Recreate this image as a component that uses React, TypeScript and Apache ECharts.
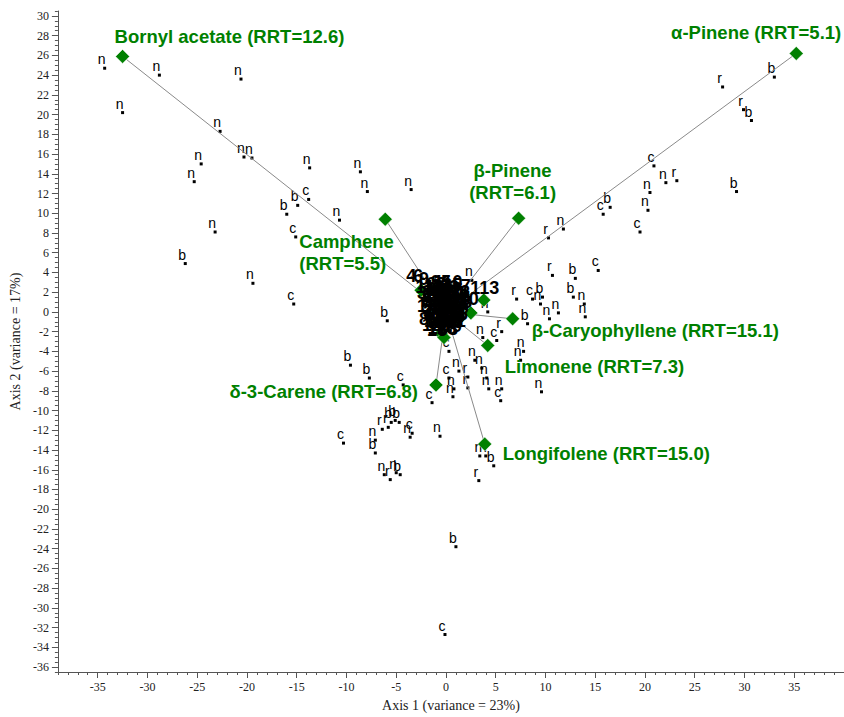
import React, { useEffect, useRef } from "react";
import * as echarts from "echarts";

// ---------- axes ----------
const xTicks = [-35, -30, -25, -20, -15, -10, -5, 0, 5, 10, 15, 20, 25, 30, 35];
const yTicks = [-36, -34, -32, -30, -28, -26, -24, -22, -20, -18, -16, -14, -12, -10, -8, -6, -4, -2, 0, 2, 4, 6, 8, 10, 12, 14, 16, 18, 20, 22, 24, 26, 28, 30];
const xName = "Axis 1 (variance = 23%)";
const yName = "Axis 2 (variance = 17%)";

// ---------- sample scores (letter = group) ----------
const nPoints: [number, number][] = [
  [-34.3, 24.7], [-28.8, 24.0], [-20.6, 23.6], [-32.5, 20.2], [-22.7, 18.3], [-20.3, 15.7], [-19.5, 15.6],
  [-24.6, 15.0], [-13.7, 14.6], [-25.3, 13.2], [-8.6, 14.2], [-7.9, 12.2], [-3.5, 12.4], [-10.7, 9.3],
  [-23.2, 8.1], [-19.4, 2.9],
  [22.1, 13.1], [20.5, 12.1], [20.3, 10.3], [11.8, 8.4], [13.9, 0.8], [14.0, -0.5], [9.5, 0.8], [11.3, -0.1],
  [10.4, -0.7], [2.6, 3.2], [4.2, 0.0],
  [3.7, -2.6], [7.8, -4.0], [7.5, -4.9], [9.6, -8.1], [2.9, -4.9], [3.6, -5.7], [4.1, -6.7], [4.3, -7.8],
  [5.6, -7.8], [1.3, -6.0], [0.8, -7.8], [0.7, -8.6],
  [-3.6, -12.7], [-0.6, -12.6], [-7.1, -13.0], [-6.2, -16.5], [-5.0, -16.3], [4.0, -14.6],
];
const bPoints: [number, number][] = [
  [-14.9, 10.8], [-16.0, 9.9], [-26.2, 4.9], [-5.9, -0.9],
  [33.0, 23.8], [30.7, 19.4], [29.2, 12.2], [16.5, 10.6], [13.0, 3.4], [12.8, 1.5], [9.7, 1.5], [8.2, -1.2],
  [-9.6, -5.4], [-7.7, -6.7], [-7.1, -14.3], [-5.5, -11.2], [-5.1, -11.0], [-4.7, -11.2], [-4.6, -16.5],
  [1.0, -23.8], [4.8, -15.6],
];
const cPoints: [number, number][] = [
  [-13.8, 11.4], [-15.1, 7.6], [-15.3, 0.8],
  [20.9, 14.8], [15.8, 9.9], [19.5, 8.1], [15.3, 4.2], [8.7, 1.3],
  [5.1, -2.9], [5.5, -9.0], [0.3, -6.7], [0.3, -4.0],
  [-4.3, -7.4], [-1.4, -9.2], [-10.3, -13.3], [-3.4, -12.3],
  [-0.1, -32.7],
];
const rPoints: [number, number][] = [
  [27.8, 22.8], [29.9, 20.5], [23.2, 13.3], [10.3, 7.5], [10.7, 3.7], [7.1, 1.3],
  [5.6, -2.0], [2.2, -6.6], [2.2, -7.7],
  [-6.4, -11.9], [-5.8, -11.7], [-5.6, -17.0],
  [3.4, -14.6], [3.3, -17.1],
];

// ---------- named loadings ----------
const loadingNames = [
  "Bornyl acetate (RRT=12.6)",
  "α-Pinene (RRT=5.1)",
  "β-Pinene\n(RRT=6.1)",
  "Camphene\n(RRT=5.5)",
  "β-Caryophyllene (RRT=15.1)",
  "Limonene (RRT=7.3)",
  "Longifolene (RRT=15.0)",
  "δ-3-Carene (RRT=6.8)",
];
const loadingX = [-32.5, 35.2, 7.3, -6.1, 6.7, 4.2, 3.9, -1.0];
const loadingY = [25.9, 26.2, 9.5, 9.4, -0.7, -3.4, -13.4, -7.4];

// ---------- unnamed loadings near the origin ----------
const minorLoadingX = [3.8, 2.5, 1.2, -0.5, -0.2, -2.5];
const minorLoadingY = [1.2, -0.1, -0.8, -2.2, -2.6, 2.2];

// ---------- peak number labels crowded round the origin ----------
const peakLabels: [string, number, number][] = [
  ["4", -3.5, 3.6], ["6", -2.8, 3.6], ["9", -2.2, 3.3], ["95", -0.5, 3.0], ["113", 3.9, 2.4], ["20", 2.3, 1.3],
  ["1", -2.4, 0.6], ["12", -1.4, -1.3], ["7", 2.0, 2.6], ["15", -1.0, 2.2], ["22", 0.3, 2.5], ["31", -0.2, 1.6],
  ["44", 0.9, 1.9], ["52", -1.4, 1.2], ["67", 0.5, 0.9], ["70", 1.3, 0.4], ["78", -0.6, 0.5], ["81", 0.0, -0.1],
  ["88", -1.1, -0.3], ["90", 0.8, -0.6], ["101", -0.3, -0.8], ["104", 1.0, 1.4], ["107", -0.8, 1.8], ["110", 0.2, 3.0],
  ["116", -1.6, 2.5], ["118", -0.4, -1.6], ["2", 1.5, -0.9], ["3", -1.8, 0.0], ["10", 0.6, -1.4], ["14", -1.2, -0.9],
  ["16", -0.9, -1.8], ["18", 1.6, 1.0], ["21", -0.5, 2.6], ["25", 0.7, 2.2], ["27", -1.3, 1.6], ["29", 0.1, 0.3],
  ["33", -0.7, -0.2], ["36", 1.2, -0.2], ["39", -1.9, 1.9], ["41", 0.4, 1.6], ["47", -0.2, -1.3], ["49", 0.9, 0.2],
  ["55", -1.5, 0.5], ["58", -0.1, 2.1], ["60", 0.5, -0.8], ["63", -1.0, 2.8], ["72", 1.4, 2.0], ["75", -0.6, 1.1],
  ["84", 0.3, -0.3], ["86", -1.7, -0.7], ["93", 1.1, 0.8], ["97", -0.3, 0.6], ["99", 0.6, 0.5], ["13", -1.1, 0.2],
  ["8", -0.2, 0.9], ["11", 0.4, 0.1], ["17", -1.0, 0.8], ["19", 0.9, -0.2], ["23", -0.4, 2.3], ["24", 0.3, 1.2],
  ["26", -1.2, 0.4], ["28", 0.1, -0.9], ["30", -0.8, -1.1], ["32", 1.0, 0.9], ["34", -0.3, 1.3], ["35", 0.6, 2.7],
  ["37", -1.4, 2.0], ["38", 0.2, -1.7], ["40", -0.9, 1.4], ["42", 1.3, 1.6], ["43", -0.5, -0.4], ["45", 0.7, -1.0],
];

// label placement (styling only)
const loadingLabelPlacement: Record<string, { offset: [number, number]; align: string }> = {
  "Bornyl acetate (RRT=12.6)": { offset: [-8, -20], align: "left" },
  "α-Pinene (RRT=5.1)": { offset: [45, -21], align: "right" },
  "β-Pinene\n(RRT=6.1)": { offset: [-6, -37], align: "center" },
  "Camphene\n(RRT=5.5)": { offset: [-86, 33], align: "left" },
  "β-Caryophyllene (RRT=15.1)": { offset: [19, 12], align: "left" },
  "Limonene (RRT=7.3)": { offset: [17, 21], align: "left" },
  "Longifolene (RRT=15.0)": { offset: [18, 9], align: "left" },
  "δ-3-Carene (RRT=6.8)": { offset: [-18, 7], align: "right" },
};

const GREEN = "#008000";
const AXIS = "#555";
const SERIF = "'Liberation Serif', 'Times New Roman', serif";
const SANS = "'Liberation Sans', Arial, sans-serif";

export default function App() {
  const ref = useRef<HTMLDivElement>(null);

  useEffect(() => {
    if (!ref.current) return;
    const chart = echarts.init(ref.current, undefined, { renderer: "svg" });

    const scoreSeries = (letter: string, pts: [number, number][]) => ({
      type: "scatter",
      name: letter,
      xAxisIndex: 0,
      yAxisIndex: 0,
      data: pts,
      symbol: "rect",
      symbolSize: 3,
      itemStyle: { color: "#000", opacity: 1 },
      z: 2,
      silent: true,
      label: {
        show: true,
        position: [-1.5, -7.5],
        formatter: () => letter,
        color: "#000",
        fontFamily: SANS,
        fontSize: 14,
        align: "center",
        verticalAlign: "middle",
        textBorderWidth: 0,
        textBorderColor: "transparent",
      },
    });

    const allLoadX = [...loadingX, ...minorLoadingX];
    const allLoadY = [...loadingY, ...minorLoadingY];

    const lineSeries = allLoadX.map((x, i) => ({
      type: "line",
      xAxisIndex: 0,
      yAxisIndex: 0,
      data: [[0, 0], [x, allLoadY[i]]],
      symbol: "none",
      lineStyle: { color: "#8a8a8a", width: 1 },
      z: 3,
      silent: true,
    }));

    const option: any = {
      animation: false,
      grid: { left: 54, right: 0, top: 11, bottom: 41, containLabel: false },
      xAxis: [
        {
          type: "value",
          min: -39,
          max: 40,
          interval: 1,
          position: "bottom",
          axisLine: { show: true, onZero: false, lineStyle: { color: AXIS, width: 1 } },
          axisTick: { show: true, length: 3, lineStyle: { color: AXIS } },
          axisLabel: { show: false },
          splitLine: { show: false },
        },
        {
          type: "value",
          min: -39,
          max: 40,
          position: "bottom",
          axisLine: { show: false, onZero: false },
          axisTick: { show: true, length: 6, customValues: xTicks, lineStyle: { color: AXIS } },
          axisLabel: {
            show: true,
            customValues: xTicks,
            fontFamily: SERIF,
            fontSize: 12,
            color: "#222",
            margin: 9,
          },
          splitLine: { show: false },
          name: xName,
          nameLocation: "middle",
          nameGap: 26,
          nameTextStyle: { fontFamily: SERIF, fontSize: 14, color: "#222" },
        },
      ],
      yAxis: [
        {
          type: "value",
          min: -36.5,
          max: 30.5,
          interval: 0.5,
          position: "left",
          axisLine: { show: true, onZero: false, lineStyle: { color: AXIS, width: 1 } },
          axisTick: { show: true, length: 3, lineStyle: { color: AXIS } },
          axisLabel: { show: false },
          splitLine: { show: false },
        },
        {
          type: "value",
          min: -36.5,
          max: 30.5,
          position: "left",
          axisLine: { show: false, onZero: false },
          axisTick: { show: true, length: 6, customValues: yTicks, lineStyle: { color: AXIS } },
          axisLabel: {
            show: true,
            customValues: yTicks,
            fontFamily: SERIF,
            fontSize: 12,
            color: "#222",
            margin: 9,
          },
          splitLine: { show: false },
          name: yName,
          nameLocation: "middle",
          nameGap: 30,
          nameTextStyle: { fontFamily: SERIF, fontSize: 14, color: "#222" },
        },
      ],
      series: [
        scoreSeries("n", nPoints),
        scoreSeries("b", bPoints),
        scoreSeries("c", cPoints),
        scoreSeries("r", rPoints),
        ...lineSeries,
        {
          type: "scatter",
          xAxisIndex: 0,
          yAxisIndex: 0,
          data: allLoadX.map((x, i) => [x, allLoadY[i]]),
          symbol: "diamond",
          symbolSize: 14,
          itemStyle: { color: GREEN, opacity: 1, borderColor: "#fff", borderWidth: 0.5 },
          z: 4,
          silent: true,
        },
        {
          type: "scatter",
          xAxisIndex: 0,
          yAxisIndex: 0,
          data: peakLabels.map(([name, x, y]) => ({ name, value: [x, y] })),
          symbolSize: 1,
          itemStyle: { color: "#000", opacity: 1 },
          z: 5,
          silent: true,
          label: {
            show: true,
            position: [0.5, 0.5],
            formatter: (p: any) => p.name,
            color: "#000",
            fontFamily: SANS,
            fontWeight: "bold",
            fontSize: 18,
            align: "center",
            verticalAlign: "middle",
            textBorderWidth: 0,
            textBorderColor: "transparent",
          },
        },
        {
          type: "scatter",
          xAxisIndex: 0,
          yAxisIndex: 0,
          data: loadingNames.map((name, i) => ({
            name,
            value: [loadingX[i], loadingY[i]],
            label: {
              offset: loadingLabelPlacement[name].offset,
              align: loadingLabelPlacement[name].align,
            },
          })),
          symbolSize: 1,
          itemStyle: { color: GREEN, opacity: 1 },
          z: 6,
          silent: true,
          label: {
            show: true,
            position: [0.5, 0.5],
            formatter: (p: any) => p.name,
            color: GREEN,
            fontFamily: SANS,
            fontWeight: "bold",
            fontSize: 18.5,
            lineHeight: 22,
            verticalAlign: "middle",
            textBorderWidth: 0,
            textBorderColor: "transparent",
          },
        },
      ],
    };

    chart.setOption(option);
    return () => chart.dispose();
  }, []);

  return (
    <div
      ref={ref}
      style={{ position: "fixed", left: 0, top: 0, width: 844, height: 717, background: "#fff" }}
    />
  );
}
